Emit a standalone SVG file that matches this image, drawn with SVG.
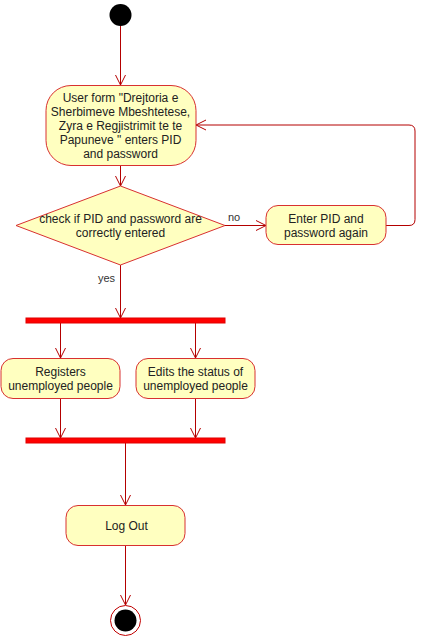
<svg xmlns="http://www.w3.org/2000/svg" width="426" height="636" viewBox="0 0 426 636">
<defs>
<marker id="arr" markerWidth="14" markerHeight="14" refX="12" refY="7" orient="auto" markerUnits="userSpaceOnUse">
<path d="M2,2 L12,7 L2,12" fill="none" stroke="#B40000" stroke-width="1"/>
</marker>
<style>
.node{fill:#FFFFC0;stroke:#D83030;stroke-width:1}
.conn{fill:none;stroke:#B40000;stroke-width:1;marker-end:url(#arr)}
.t{font-family:"Liberation Sans",Arial,sans-serif;font-size:12px;fill:#222;text-anchor:middle}
.lbl{font-family:"Liberation Sans",Arial,sans-serif;font-size:11px;fill:#333}
.bar{fill:#FF0000;stroke:#E00000;stroke-width:1}
</style>
</defs>
<rect width="426" height="636" fill="#fff"/>
<g id="connectors">
<line class="conn" x1="120.5" y1="26" x2="120.5" y2="85"/>
<line class="conn" x1="120.5" y1="165" x2="120.5" y2="186"/>
<line class="conn" x1="225" y1="225.5" x2="266" y2="225.5"/>
<path class="conn" d="M386,225.5 H409 Q415,225.5 415,219.5 V131 Q415,125 409,125 H196"/>
<line class="conn" x1="120.5" y1="265" x2="120.5" y2="318"/>
<line class="conn" x1="60.5" y1="323" x2="60.5" y2="358"/>
<line class="conn" x1="195.5" y1="323" x2="195.5" y2="358"/>
<line class="conn" x1="60.5" y1="398" x2="60.5" y2="438"/>
<line class="conn" x1="195.5" y1="398" x2="195.5" y2="438"/>
<line class="conn" x1="125.5" y1="443" x2="125.5" y2="505"/>
<line class="conn" x1="125.5" y1="546" x2="125.5" y2="605"/>
<text class="lbl" x="228" y="221">no</text>
<text class="lbl" x="98" y="282">yes</text>
</g>
<g id="start">
<circle cx="120.5" cy="15" r="11" fill="#000"/>
</g>
<g id="userForm">
<rect class="node" x="46" y="85.5" width="150" height="80" rx="25"/>
<text class="t" x="120.5" y="102">User form "Drejtoria e</text>
<text class="t" x="120.5" y="116">Sherbimeve Mbeshtetese,</text>
<text class="t" x="120.5" y="130">Zyra e Regjistrimit te te</text>
<text class="t" x="120.5" y="144">Papuneve " enters PID</text>
<text class="t" x="120.5" y="158">and password</text>
</g>
<g id="check">
<polygon class="node" points="120.5,186 225,225.5 120.5,265 16,225.5"/>
<text class="t" x="120.5" y="223">check if PID and password are</text>
<text class="t" x="120.5" y="237">correctly entered</text>
</g>
<g id="enterAgain">
<rect class="node" x="266" y="205.5" width="120" height="39" rx="12"/>
<text class="t" x="326" y="223">Enter PID and</text>
<text class="t" x="326" y="237">password again</text>
</g>
<g id="fork">
<rect class="bar" x="26" y="318" width="199" height="5"/>
</g>
<g id="registers">
<rect class="node" x="1" y="358.5" width="119" height="40" rx="12"/>
<text class="t" x="60.5" y="376">Registers</text>
<text class="t" x="60.5" y="390">unemployed people</text>
</g>
<g id="edits">
<rect class="node" x="136" y="358.5" width="119" height="40" rx="12"/>
<text class="t" x="195.5" y="376">Edits the status of</text>
<text class="t" x="195.5" y="390">unemployed people</text>
</g>
<g id="join">
<rect class="bar" x="26" y="438" width="199" height="5"/>
</g>
<g id="logout">
<rect class="node" x="66" y="505.5" width="119" height="40" rx="12"/>
<text class="t" x="126.5" y="530">Log Out</text>
</g>
<g id="end">
<circle cx="125.5" cy="620.5" r="15" fill="#fff" stroke="#C00000" stroke-width="1"/>
<circle cx="125.5" cy="620.5" r="11" fill="#000"/>
</g>
</svg>
